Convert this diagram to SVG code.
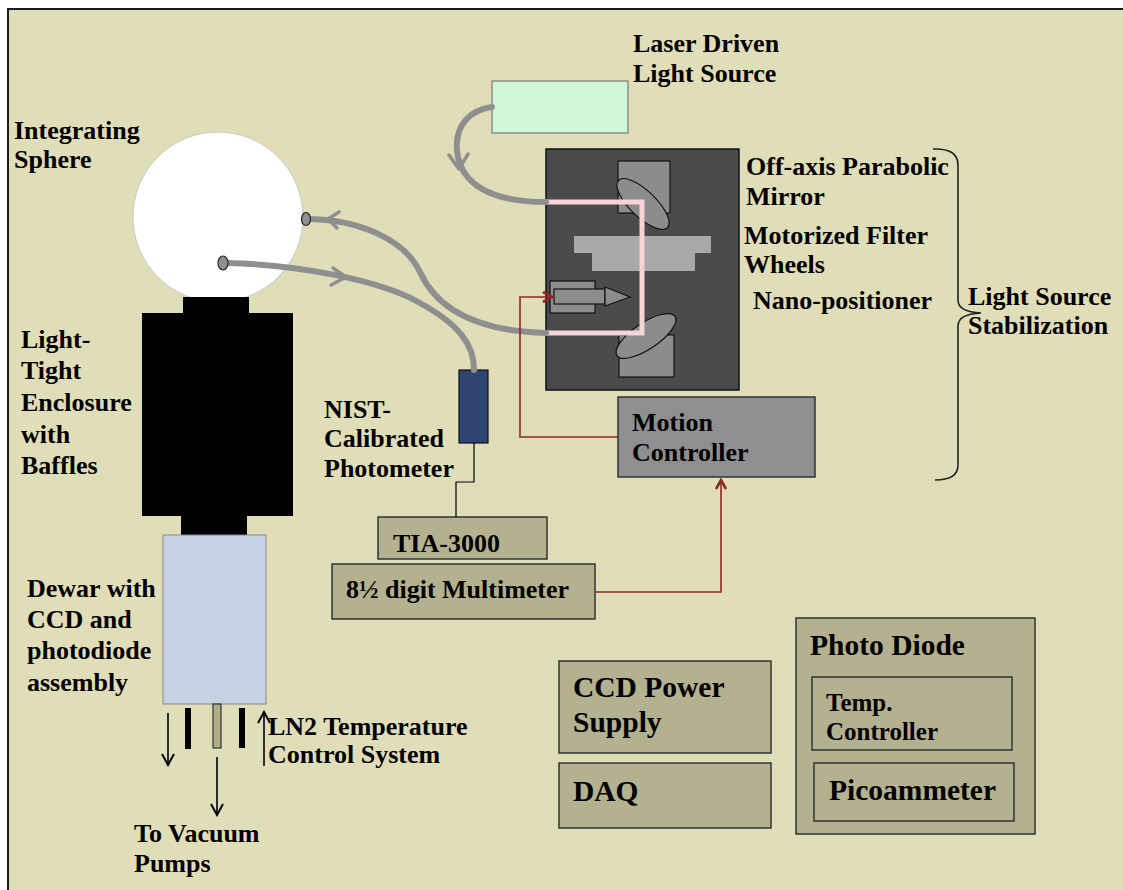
<svg xmlns="http://www.w3.org/2000/svg" width="1123" height="890" viewBox="0 0 1123 890">
<defs>
<style>
text{font-family:"Liberation Serif","Times New Roman",serif;font-weight:bold;font-size:26px;fill:#000}
.big{font-size:29.5px}
.box{fill:#b3b18f;stroke:#333;stroke-width:1.5}
.fiber{fill:none;stroke:#8f8f8f;stroke-width:6;stroke-linecap:round}
.chev{fill:none;stroke:#8f8f8f;stroke-width:3.5;stroke-linecap:round;stroke-linejoin:round}
.red{fill:none;stroke:#8c2a22;stroke-width:1.6}
.blk{fill:none;stroke:#000;stroke-width:1.6}
.port{fill:#8f8f8f;stroke:#222;stroke-width:1.2}
</style>
<marker id="redArrow" viewBox="0 0 12 12" refX="10" refY="6" markerWidth="12" markerHeight="12" markerUnits="userSpaceOnUse" orient="auto">
<path d="M1,1 L10,6 L1,11" fill="none" stroke="#8c2a22" stroke-width="2.6"/>
</marker>
<marker id="blkArrow" viewBox="0 0 14 14" refX="12" refY="7" markerWidth="14" markerHeight="14" markerUnits="userSpaceOnUse" orient="auto">
<path d="M1,1 L12,7 L1,13" fill="none" stroke="#000" stroke-width="2"/>
</marker>
</defs>
<rect x="0" y="0" width="1123" height="890" fill="#ffffff"/>
<rect x="8" y="9" width="1130" height="900" fill="#e0ddb9" stroke="#1a1a1a" stroke-width="2"/>

<g id="integrating-sphere">
<circle cx="218" cy="217" r="85" fill="#ffffff" stroke="#c8c8c8" stroke-width="1"/>
<text x="14" y="139">Integrating</text>
<text x="14" y="168">Sphere</text>
</g>

<g id="enclosure">
<rect x="183" y="297" width="66" height="17" fill="#000"/>
<rect x="142" y="313" width="151" height="203" fill="#000"/>
<rect x="181" y="515" width="66" height="21" fill="#000"/>
<text x="21" y="348">Light-</text>
<text x="21" y="379">Tight</text>
<text x="21" y="411">Enclosure</text>
<text x="21" y="443">with</text>
<text x="21" y="474">Baffles</text>
</g>

<g id="dewar">
<rect x="163" y="535" width="103" height="169" fill="#c6d1e4" stroke="#888" stroke-width="1"/>
<text x="27" y="597">Dewar with</text>
<text x="27" y="628">CCD and</text>
<text x="27" y="659">photodiode</text>
<text x="27" y="691">assembly</text>
<rect x="185" y="708" width="6" height="41" fill="#000"/>
<rect x="213" y="704" width="8" height="44" fill="#b0ae88" stroke="#333" stroke-width="1.2"/>
<rect x="239" y="708" width="6" height="40" fill="#000"/>
</g>

<g id="ln2-label">
<text x="268" y="735">LN2 Temperature</text>
<text x="268" y="763">Control System</text>
</g>
<g id="vacuum-label">
<text x="134" y="842">To Vacuum</text>
<text x="134" y="872">Pumps</text>
</g>

<g id="laser-source">
<rect x="492" y="81" width="136" height="52" fill="#cff7d6" stroke="#8a8a8a" stroke-width="1.5"/>
<text x="633" y="52">Laser Driven</text>
<text x="633" y="82">Light Source</text>
</g>

<g id="stabilization-box">
<rect x="546" y="149" width="193" height="241" fill="#4b4b4b" stroke="#111" stroke-width="1.5"/>
<rect x="618" y="161" width="52" height="52" fill="#8c8c8c" stroke="#111" stroke-width="1.2"/>
<ellipse cx="643" cy="204" rx="34" ry="13" transform="rotate(44 643 204)" fill="#8c8c8c" stroke="#111" stroke-width="1.2"/>
<rect x="574" y="236" width="137" height="17" fill="#a9a9a9"/>
<rect x="592" y="253" width="103" height="18" fill="#a9a9a9"/>
<rect x="550" y="281" width="45" height="32" fill="#8c8c8c" stroke="#111" stroke-width="1.2"/>
<rect x="554" y="289" width="51" height="15" fill="#8c8c8c" stroke="#111" stroke-width="1.2"/>
<path d="M605,287 L630,297 L605,306 Z" fill="#8c8c8c" stroke="#111" stroke-width="1.2"/>
<rect x="619" y="335" width="55" height="42" fill="#8c8c8c" stroke="#111" stroke-width="1.2"/>
<ellipse cx="646" cy="336" rx="35" ry="13" transform="rotate(-34 646 336)" fill="#8c8c8c" stroke="#111" stroke-width="1.2"/>
<path d="M546,202 L642,202 L642,333 L546,333" fill="none" stroke="#f5d6d8" stroke-width="5"/>
</g>

<g id="stabilization-labels">
<text x="746" y="175">Off-axis Parabolic</text>
<text x="746" y="205">Mirror</text>
<text x="744" y="244">Motorized Filter</text>
<text x="744" y="273">Wheels</text>
<text x="753" y="309">Nano-positioner</text>
<path d="M933,149 Q958,148 958,165 L958,300 Q958,312 981,313 Q958,314 958,326 L958,465 Q958,480 935,480" fill="none" stroke="#222" stroke-width="1.6"/>
<text x="968" y="305">Light Source</text>
<text x="968" y="334">Stabilization</text>
</g>

<g id="photometer">
<rect x="459" y="370" width="29" height="73" fill="#2e4473" stroke="#111" stroke-width="1.2"/>
<text x="324" y="418">NIST-</text>
<text x="324" y="447">Calibrated</text>
<text x="324" y="477">Photometer</text>
</g>

<g id="motion-controller">
<rect x="618" y="397" width="197" height="80" fill="#8f8f8f" stroke="#333" stroke-width="1.5"/>
<text x="632" y="431">Motion</text>
<text x="632" y="461">Controller</text>
</g>

<g id="tia">
<rect class="box" x="378" y="517" width="169" height="42"/>
<text x="393" y="552">TIA-3000</text>
</g>

<g id="multimeter">
<rect class="box" x="332" y="564" width="263" height="55"/>
<text x="346" y="598">8½ digit Multimeter</text>
</g>

<g id="ccd-power">
<rect class="box" x="559" y="661" width="212" height="92"/>
<text class="big" x="573" y="697">CCD Power</text>
<text class="big" x="573" y="732">Supply</text>
</g>

<g id="daq">
<rect class="box" x="559" y="763" width="212" height="65"/>
<text class="big" x="573" y="801">DAQ</text>
</g>

<g id="photo-diode">
<rect class="box" x="796" y="618" width="239" height="216"/>
<text class="big" x="810" y="655">Photo Diode</text>
<rect class="box" x="812" y="677" width="200" height="73"/>
<text x="826" y="711" style="font-size:25px">Temp.</text>
<text x="826" y="740" style="font-size:25px">Controller</text>
<rect class="box" x="814" y="763" width="200" height="58"/>
<text class="big" x="829" y="800">Picoammeter</text>
</g>

<g id="connectors">
<path class="fiber" d="M492,107 C470,110 455,125 457,150 C460,185 492,202 546,202"/>
<path class="chev" d="M449,155 L459,169 L468,154"/>
<path class="fiber" d="M310,219 C360,220 405,240 420,272 C435,305 470,331 546,333"/>
<path class="chev" d="M339,212 L328,219 L337,228"/>
<path class="fiber" d="M228,263 C300,265 380,280 420,303 C460,325 474,345 474,370"/>
<path class="chev" d="M333,268 L346,277 L331,285"/>
<ellipse class="port" cx="306" cy="219" rx="4.5" ry="6.5"/>
<ellipse class="port" cx="223" cy="263" rx="5" ry="7"/>
<path class="red" d="M618,437 L520,437 L520,297 L552,297" marker-end="url(#redArrow)"/>
<path class="red" d="M595,592 L721,592 L721,480" marker-end="url(#redArrow)"/>
<path fill="none" stroke="#000" stroke-width="1.2" d="M474,443 L474,482 L456,482 L456,517"/>
<path class="blk" d="M168,713 L168,765" marker-end="url(#blkArrow)"/>
<path class="blk" d="M217,757 L217,815" marker-end="url(#blkArrow)"/>
<path class="blk" d="M264,766 L264,712" marker-end="url(#blkArrow)"/>
</g>
</svg>
